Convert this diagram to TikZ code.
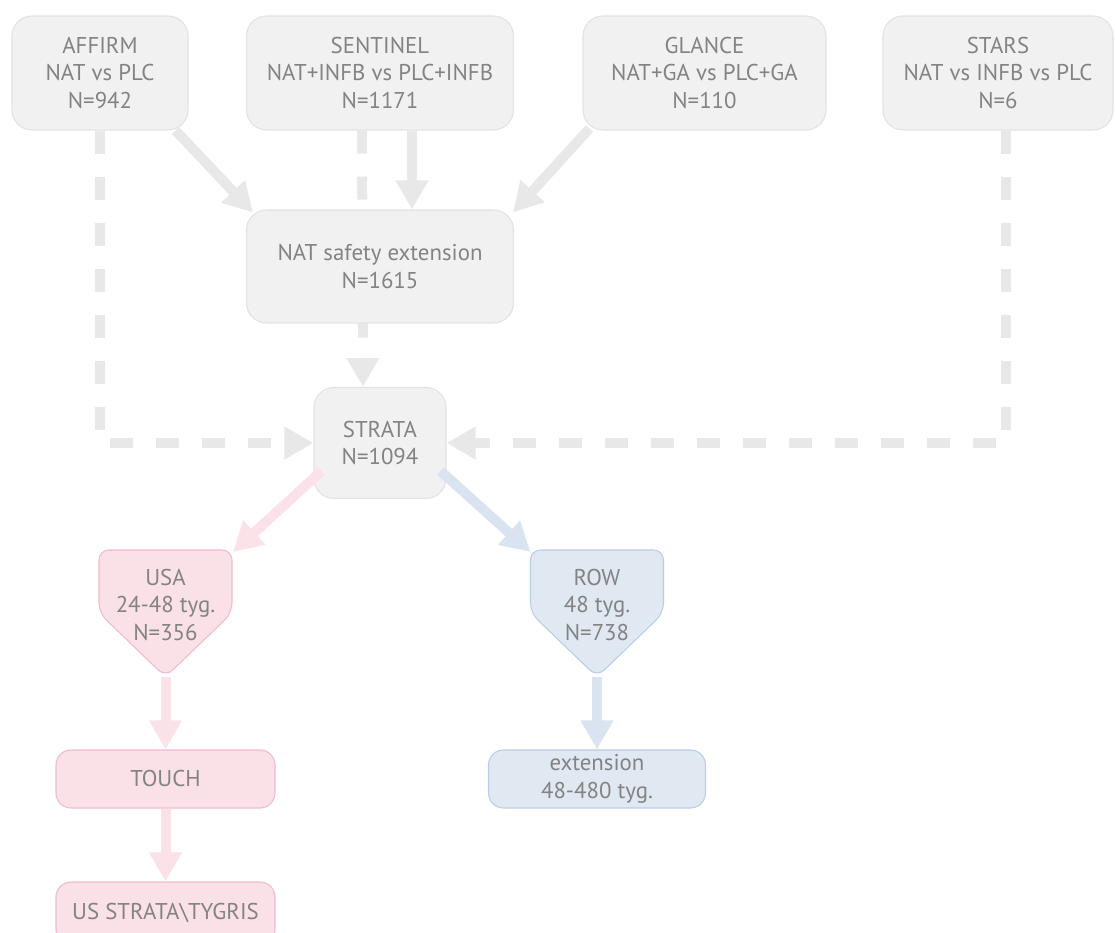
\documentclass[tikz,border=0pt]{standalone}
\usepackage{fontspec}
\setmainfont{PT Sans}
\usetikzlibrary{arrows.meta,backgrounds,calc}
\definecolor{boxfill}{HTML}{F1F1F1}
\definecolor{boxline}{HTML}{E2E2E2}
\definecolor{flowgray}{HTML}{E8E8E8}
\definecolor{textgray}{HTML}{838383}
\definecolor{pinkfill}{HTML}{F9E1E7}
\definecolor{pinkline}{HTML}{F2BACA}
\definecolor{pinkflow}{HTML}{FAE2E8}
\definecolor{bluefill}{HTML}{E0E8F2}
\definecolor{blueline}{HTML}{BACDE6}
\definecolor{blueflow}{HTML}{DAE4F0}
\tikzset{
    flow diagram/.style = {>={Triangle[length=0.58cm, width=0.62cm]},
                           font=\fontsize{13}{15.9}\selectfont,
                           text=textgray},
    box/.style          = {draw=boxline, fill=boxfill, line width=0.6pt,
                           rounded corners=0.4cm, align=center,
                           inner sep=0pt, minimum height=2.28cm},
    smallbox/.style     = {box, rounded corners=0.3cm,
                           minimum width=4.38cm, minimum height=1.16cm},
    pinkbox/.style      = {smallbox, draw=pinkline, fill=pinkfill},
    bluebox/.style      = {smallbox, draw=blueline, fill=bluefill},
    pentlabel/.style    = {align=center, inner sep=0pt},
    pinkshape/.style    = {draw=pinkline, fill=pinkfill, line width=0.6pt,
                           rounded corners=0.2cm},
    blueshape/.style    = {draw=blueline, fill=bluefill, line width=0.6pt,
                           rounded corners=0.2cm},
    flow/.style         = {line width=0.2cm, draw=flowgray},
    dflow/.style        = {flow, dash pattern=on 0.46cm off 0.46cm},
    pflow/.style        = {flow, draw=pinkflow},
    bflow/.style        = {flow, draw=blueflow}
}
\def\pentw{1.33}
\def\penttop{1.1}
\def\pentshoulder{-0.16}
\def\pentpoint{-1.44}

\begin{document}
\begin{tikzpicture}[flow diagram]
\useasboundingbox (0,0) rectangle (22.3,-18.66);
\clip (0,0) rectangle (22.3,-18.66);

% Source trials.
\node[box, minimum width=3.52cm] (AFFIRM) at (2.0,-1.46)
    {AFFIRM\\NAT vs PLC\\N=942};
\node[box, minimum width=5.34cm] (SENTINEL) at (7.6,-1.46)
    {SENTINEL\\NAT+INFB vs PLC+INFB\\N=1171};
\node[box, minimum width=4.86cm] (GLANCE) at (14.09,-1.46)
    {GLANCE\\NAT+GA vs PLC+GA\\N=110};
\node[box, minimum width=4.6cm] (STARS) at (19.96,-1.46)
    {STARS\\NAT vs INFB vs PLC\\N=6};

% Pooled safety extension and STRATA.
\node[box, minimum width=5.34cm, minimum height=2.26cm] (NAT) at (7.6,-5.33)
    {NAT safety extension\\N=1615};
\node[box, minimum width=2.64cm, minimum height=2.22cm] (STRATA) at (7.6,-8.86)
    {STRATA\\N=1094};

\draw[->, flow] ($(AFFIRM.south east)+(-0.26,0)$) -- ($(NAT.north west)+(0.14,-0.06)$);
\draw[->, flow] ([xshift=0.64cm]SENTINEL.south) -- ([xshift=0.64cm]NAT.north);
\draw[->, flow] ($(GLANCE.south west)+(0.14,0.04)$) -- ($(NAT.north east)+(-0.02,-0.06)$);

% Dashed paths run behind the boxes.
\begin{scope}[on background layer]
    \draw[->, dflow] ([xshift=-0.36cm]SENTINEL.south) -- ([xshift=-0.34cm]STRATA.north);
    \draw[->, dflow] (AFFIRM.south) |- (STRATA.west);
    \draw[->, dflow] ([xshift=0.16cm]STARS.south) |- (STRATA.east);
\end{scope}

% Regional arms.
\node[pentlabel] (USA) at (3.31,-12.1) {USA\\24-48 tyg.\\N=356};
\node[pentlabel] (ROW) at (11.94,-12.1) {ROW\\48 tyg.\\N=738};
\begin{scope}[on background layer]
    \draw[pinkshape] ($(USA)+(-\pentw,\penttop)$)
        -- ($(USA)+(\pentw,\penttop)$) coordinate (USA top right)
        -- ($(USA)+(\pentw,\pentshoulder)$)
        -- ($(USA)+(0,\pentpoint)$) coordinate (USA point)
        -- ($(USA)+(-\pentw,\pentshoulder)$) -- cycle;
    \draw[blueshape] ($(ROW)+(-\pentw,\penttop)$) coordinate (ROW top left)
        -- ($(ROW)+(\pentw,\penttop)$)
        -- ($(ROW)+(\pentw,\pentshoulder)$)
        -- ($(ROW)+(0,\pentpoint)$) coordinate (ROW point)
        -- ($(ROW)+(-\pentw,\pentshoulder)$) -- cycle;
\end{scope}
\draw[->, pflow] ($(STRATA.south west)+(0.16,0.56)$) -- ($(USA top right)+(0.02,-0.04)$);
\draw[->, bflow] ($(STRATA.south east)+(-0.12,0.56)$) -- ($(ROW top left)+(0,-0.04)$);

% Follow-up studies.
\node[pinkbox] (TOUCH) at (3.31,-15.58) {TOUCH};
\node[pinkbox, minimum height=1.24cm] (TYGRIS) at (3.31,-18.26)
    {US STRATA\textbackslash TYGRIS};
\node[bluebox, minimum width=4.34cm] (extension) at (11.94,-15.58)
    {extension\\48-480 tyg.};

\draw[->, pflow] (USA point) -- (TOUCH.north);
\draw[->, pflow] (TOUCH.south) -- (TYGRIS.north);
\draw[->, bflow] (ROW point) -- (extension.north);

\end{tikzpicture}
\end{document}
